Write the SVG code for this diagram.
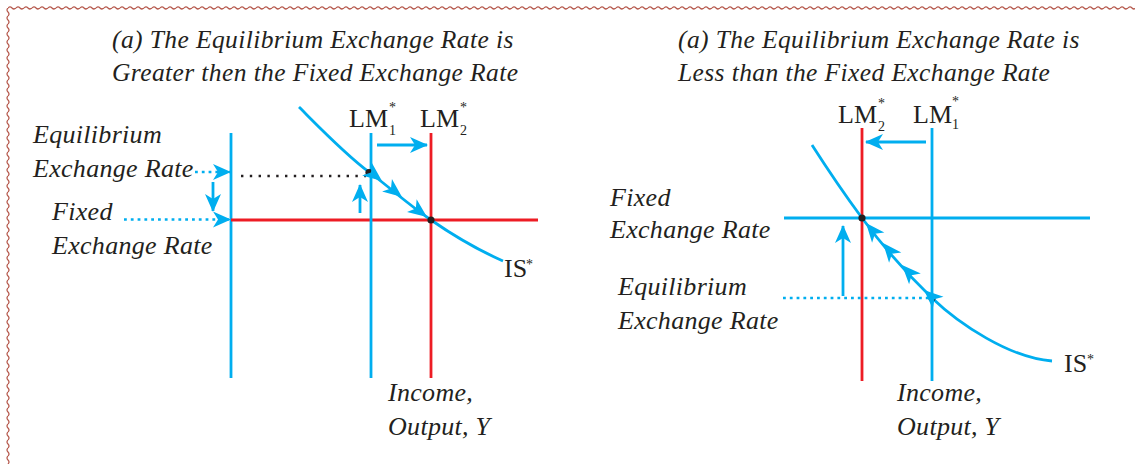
<svg xmlns="http://www.w3.org/2000/svg" width="1135" height="464" viewBox="0 0 1135 464">
<style>
.it{font-family:"Liberation Serif","Times New Roman",serif;font-style:italic;font-size:26px;letter-spacing:0.3px;fill:#231f20}
.tt{font-family:"Liberation Serif","Times New Roman",serif;font-style:italic;font-size:25.5px;letter-spacing:0.4px;fill:#231f20}
.rm{font-family:"Liberation Serif","Times New Roman",serif;font-size:26px;fill:#231f20}
.sm{font-family:"Liberation Serif","Times New Roman",serif;font-size:14px;fill:#231f20}
.b{stroke:#00aeef;stroke-width:2.8;fill:none}
.r{stroke:#ed1c24;stroke-width:2.8;fill:none}
.bd{stroke:#00aeef;stroke-width:2.6;fill:none;stroke-dasharray:2.8 4}
.kd{stroke:#231f20;stroke-width:2.4;fill:none;stroke-dasharray:2.4 6.4}
.dot{fill:#231f20}
.ah{fill:#00aeef;stroke:none}
</style>
<defs>
<pattern id="wh" patternUnits="userSpaceOnUse" x="0" y="4" width="8" height="8">
<path d="M0,4 Q2,2 4,4 T8,4" fill="none" stroke="#b5584c" stroke-width="1.2"/>
</pattern>
<pattern id="wv" patternUnits="userSpaceOnUse" x="4" y="0" width="8" height="8">
<path d="M4,0 Q2,2 4,4 T4,8" fill="none" stroke="#b5584c" stroke-width="1.2"/>
</pattern>
<marker id="arr" viewBox="0 0 18 16" refX="17" refY="8" markerWidth="18" markerHeight="16" markerUnits="userSpaceOnUse" orient="auto">
<path d="M0,0 L18,8 L0,16 L5,8 Z" fill="#00aeef"/>
</marker>
</defs>

<g id="border">
<rect x="8" y="4" width="1127" height="8" fill="url(#wh)"/>
<rect x="4" y="8" width="8" height="456" fill="url(#wv)"/>
</g>

<g id="panel-a">
<g id="title-a">
<text class="tt" x="112" y="48">(a) The Equilibrium Exchange Rate is</text>
<text class="tt" x="112" y="81">Greater then the Fixed Exchange Rate</text>
</g>
<g id="axis-a"><line class="b" x1="231" y1="133" x2="231" y2="378"/></g>
<g id="fixed-line-a"><line class="r" x1="231" y1="220" x2="538" y2="220"/></g>
<g id="lm1-a">
<line class="b" x1="371" y1="133" x2="371" y2="378"/>
<text class="rm" x="349" y="127">LM</text>
<text class="sm" x="389" y="112">*</text>
<text class="sm" x="389" y="135">1</text>
</g>
<g id="lm2-a">
<line class="r" x1="431" y1="133" x2="431" y2="378"/>
<text class="rm" x="420" y="127">LM</text>
<text class="sm" x="460" y="112">*</text>
<text class="sm" x="460" y="135">2</text>
</g>
<g id="is-a">
<path class="b" d="M299,107 C322,130 345,154 369,172 S405,202 431,220 S478,250 503,261"/>
<text class="rm" x="504" y="277">IS</text>
<text class="sm" x="526" y="269">*</text>
</g>
<g id="labels-a">
<text class="it" x="33" y="143">Equilibrium</text>
<text class="it" x="33" y="177">Exchange Rate</text>
<text class="it" x="52" y="220">Fixed</text>
<text class="it" x="52" y="254">Exchange Rate</text>
<text class="it" x="388" y="401">Income,</text>
<text class="it" x="388" y="435">Output, Y</text>
</g>
<g id="points-a">
<circle class="dot" cx="369" cy="172.5" r="3.6"/>
<circle class="dot" cx="431" cy="220" r="3.6"/>
</g>
</g>

<g id="panel-b">
<g id="title-b">
<text class="tt" x="678" y="48">(a) The Equilibrium Exchange Rate is</text>
<text class="tt" x="678" y="81">Less than the Fixed Exchange Rate</text>
</g>
<g id="fixed-line-b"><line class="b" x1="784" y1="218" x2="1090" y2="218"/></g>
<g id="lm2-b">
<line class="r" x1="862" y1="128" x2="862" y2="381"/>
<text class="rm" x="838" y="123">LM</text>
<text class="sm" x="878" y="108">*</text>
<text class="sm" x="878" y="131">2</text>
</g>
<g id="lm1-b">
<line class="b" x1="932" y1="128" x2="932" y2="381"/>
<text class="rm" x="913" y="123">LM</text>
<text class="sm" x="952" y="106">*</text>
<text class="sm" x="952" y="129">1</text>
</g>
<g id="is-b">
<path class="b" d="M812,145 C828,170 845,195 862,218 S905,272 932,298 S1010,358 1052,361"/>
<text class="rm" x="1064" y="372">IS</text>
<text class="sm" x="1087" y="364">*</text>
</g>
<g id="labels-b">
<text class="it" x="610" y="206">Fixed</text>
<text class="it" x="610" y="238">Exchange Rate</text>
<text class="it" x="618" y="295">Equilibrium</text>
<text class="it" x="618" y="329">Exchange Rate</text>
<text class="it" x="897" y="401">Income,</text>
<text class="it" x="897" y="435">Output, Y</text>
</g>
<g id="points-b">
<circle class="dot" cx="862" cy="218" r="3.6"/>
<circle class="dot" cx="932" cy="298" r="3.6"/>
</g>
</g>

<g id="connectors">
<line class="kd" x1="241" y1="176" x2="366" y2="176"/>
<line class="bd" x1="195" y1="172" x2="230" y2="172" marker-end="url(#arr)"/>
<line class="bd" x1="124" y1="219.5" x2="230" y2="219.5" marker-end="url(#arr)"/>
<line class="b" x1="213" y1="182" x2="213" y2="211" marker-end="url(#arr)"/>
<line class="b" x1="360" y1="213" x2="360" y2="185" marker-end="url(#arr)"/>
<line class="b" x1="377" y1="145" x2="427" y2="145" marker-end="url(#arr)"/>
<path class="ah" transform="translate(382,181) rotate(38)" d="M0,0 L-19,-8 L-14,0 L-19,8 Z"/>
<path class="ah" transform="translate(402,197) rotate(38)" d="M0,0 L-19,-8 L-14,0 L-19,8 Z"/>
<path class="ah" transform="translate(427,217) rotate(37)" d="M0,0 L-19,-8 L-14,0 L-19,8 Z"/>
<line class="bd" x1="783" y1="298" x2="930" y2="298"/>
<line class="b" x1="843" y1="296" x2="843" y2="226" marker-end="url(#arr)"/>
<line class="b" x1="926" y1="142" x2="866" y2="142" marker-end="url(#arr)"/>
<path class="ah" transform="translate(866,223) rotate(-130)" d="M0,0 L-19,-8 L-14,0 L-19,8 Z"/>
<path class="ah" transform="translate(883,243) rotate(-130)" d="M0,0 L-19,-8 L-14,0 L-19,8 Z"/>
<path class="ah" transform="translate(902,265) rotate(-133)" d="M0,0 L-19,-8 L-14,0 L-19,8 Z"/>
<path class="ah" transform="translate(924,290) rotate(-138)" d="M0,0 L-19,-8 L-14,0 L-19,8 Z"/>
</g>
</svg>
